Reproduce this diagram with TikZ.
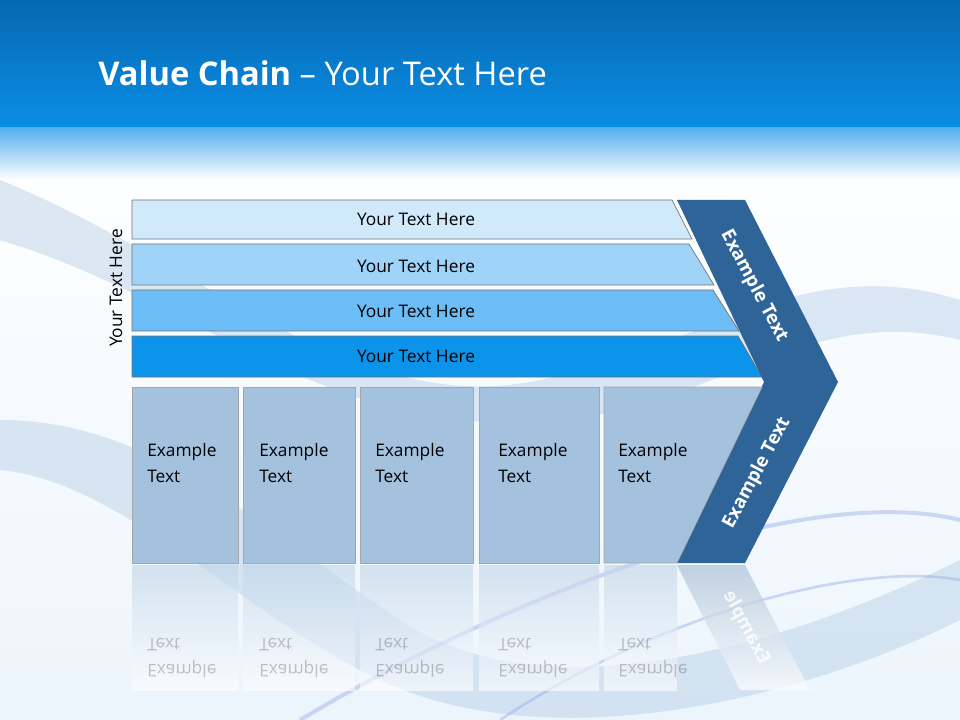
\documentclass[tikz,border=0pt]{standalone}
\usepackage{fontspec}
\setmainfont{Open Sans}
\begin{document}
\begin{tikzpicture}[x=0.75pt,y=-0.75pt,
  bar/.style={draw=black!55,line width=0.5pt},
  box/.style={draw=black!35,line width=0.5pt,fill=boxc},
  btxt/.style={font=\fontsize{13}{19.5}\selectfont,align=left,anchor=north west,inner sep=0},
  rtxt/.style={font=\fontsize{13}{19.5}\selectfont,text=black,opacity=0.22,align=left,anchor=south west,inner sep=0,yscale=-1},
  ctxt/.style={font=\bfseries\fontsize{14}{16}\selectfont,text=white}]
\definecolor{boxc}{HTML}{A4C2DE}
\definecolor{chev}{HTML}{2E6497}
\definecolor{topA}{HTML}{0668B2}
\definecolor{topB}{HTML}{0A8EE6}
\definecolor{swirl}{HTML}{B4CDE6}
\useasboundingbox (0,0) rectangle (960,720);
% background
\shade[top color=white,bottom color={rgb,255:red,236;green,245;blue,252}] (0,128) rectangle (960,720);
\fill[swirl,opacity=0.45] (0,180) .. controls (200,260) and (350,420) .. (540,380) .. controls (700,350) and (800,250) .. (960,300) -- (960,340) .. controls (800,300) and (700,420) .. (540,420) .. controls (330,440) and (200,300) .. (0,240) -- cycle;
\fill[swirl,opacity=0.45] (0,420) .. controls (150,420) and (250,520) .. (400,620) .. controls (550,720) and (800,640) .. (960,560) -- (960,620) .. controls (800,700) and (550,760) .. (380,680) .. controls (250,620) and (120,480) .. (0,470) -- cycle;
\draw[swirl!80!blue,line width=3pt,opacity=0.4] (300,720) .. controls (500,600) and (800,480) .. (960,520);
\draw[swirl!80!blue,line width=2pt,opacity=0.4] (500,720) .. controls (650,620) and (850,560) .. (960,580);
% top band
\shade[top color=topA,bottom color=topB] (0,0) rectangle (960,128);
\shade[top color=topB!70!white,bottom color=white] (0,128) rectangle (960,180);
\node[anchor=west,text=white,font=\fontsize{24.5}{28}\selectfont,inner sep=0] (title) at (98,73) {\textbf{Value Chain} – Your Text Here};
% bars
\filldraw[bar,fill={rgb,255:red,208;green,234;blue,252}] (132,200) -- (672,200) -- (692,239) -- (132,239) -- cycle;
\filldraw[bar,fill={rgb,255:red,159;green,211;blue,247}] (132,244) -- (689,244) -- (714,285) -- (132,285) -- cycle;
\filldraw[bar,fill={rgb,255:red,108;green,189;blue,245}] (132,290) -- (713,290) -- (739,331) -- (132,331) -- cycle;
\filldraw[bar,fill={rgb,255:red,12;green,147;blue,234}] (132,336) -- (738,336) -- (762,377) -- (132,377) -- cycle;
\foreach \y/\n in {219/b1,266/b2,311/b3,356/b4}
  \node[font=\fontsize{13}{16}\selectfont] (\n) at (416,\y) {Your Text Here};
\node[rotate=90,font=\fontsize{13}{16}\selectfont] (side) at (116,288) {Your Text Here};
% chevron
\fill[chev] (677,200) -- (745,200) -- (838,382) -- (745,563) -- (677,563) -- (764,382) -- cycle;
\node[ctxt,rotate=-62] (c1) at (754,286) {Example Text};
\node[ctxt,rotate=62] (c2) at (757,473) {Example Text};
% boxes
\filldraw[box] (132,387) rectangle (238,563);
\filldraw[box] (243,387) rectangle (355,563);
\filldraw[box] (360,387) rectangle (473,563);
\filldraw[box] (479,387) rectangle (599,563);
\filldraw[box] (604,387) -- (762,387) -- (677,563) -- (604,563) -- cycle;
\foreach \x/\n in {147/t1,259/t2,375/t3,498/t4,618/t5}
  \node[btxt] (\n) at (\x,443) {Example\\Text};
% reflection
\foreach \a/\b in {132/238,243/355,360/473,479/599,604/677}
  \shade[top color=boxc!70!white,bottom color=white,opacity=0.6] (\a,565) rectangle (\b,690);
\shade[top color=chev!40!white,bottom color=white,opacity=0.7] (677,565) -- (745,565) -- (810,690) -- (740,690) -- cycle;
\foreach \x/\n in {147/r1,259/r2,375/r3,498/r4,618/r5}
  \node[rtxt] (\n) at (\x,638) {Example\\Text};
\node[font=\bfseries\fontsize{14}{16}\selectfont,text=white,opacity=0.8,rotate=-62,xscale=-1] (rc) at (746,628) {Example};
\end{tikzpicture}
\end{document}
